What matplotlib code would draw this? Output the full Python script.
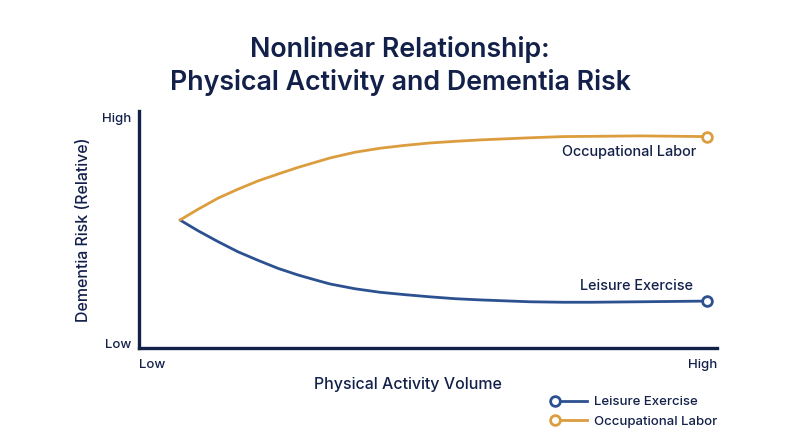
import matplotlib
matplotlib.use("Agg")
import matplotlib.pyplot as plt
from matplotlib.lines import Line2D
from matplotlib.legend_handler import HandlerLine2D

plt.rcParams['font.family'] = ['Inter', 'DejaVu Sans']
plt.rcParams['font.weight'] = 'medium'

# Data (relative scale: activity volume 0-100, risk 0-100)
activity = [0, 3.4, 7.2, 11.0, 14.8, 18.6, 22.4, 26.2, 28.5, 33.2, 38.0, 42.7,
            47.4, 52.2, 56.9, 66.4, 72.7, 77.8, 87.3, 100]
occupational = [54.0, 58.5, 63.2, 67.0, 70.5, 73.4, 76.2, 78.7, 80.2, 82.6, 84.3, 85.5,
                86.5, 87.2, 87.8, 88.7, 89.2, 89.3, 89.5, 89.2]
leisure = [54.0, 49.5, 44.9, 40.6, 37.0, 33.6, 30.8, 28.4, 27.0, 25.0, 23.5, 22.5,
           21.6, 20.8, 20.3, 19.5, 19.3, 19.3, 19.5, 19.8]
series_names = ["Leisure Exercise", "Occupational Labor"]
y_ticklabels = ["Low", "High"]
x_ticklabels = ["Low", "High"]

NAVY = "#13214a"
BLUE = "#2c5190"
ORANGE = "#dc9d3f"


class LeftMarkerHandler(HandlerLine2D):
    def create_artists(self, legend, orig_handle, xdescent, ydescent, width, height,
                       fontsize, trans):
        artists = super().create_artists(legend, orig_handle, xdescent, ydescent,
                                         width, height, fontsize, trans)
        if len(artists) == 1:
            artists[0].set_markevery([0])
        else:
            line, marker = artists[0], artists[1]
            xd = line.get_xdata()
            marker.set_xdata([xd[0]])
        return artists


fig = plt.figure(figsize=(8, 4.47), dpi=100)
ax = fig.add_axes([139/800, 99/447, 578/800, 237/447])

ax.plot(activity, leisure, color=BLUE, lw=2.0, solid_capstyle='round',
        solid_joinstyle='round', zorder=3)
ax.plot(activity, occupational, color=ORANGE, lw=2.0, solid_capstyle='round',
        solid_joinstyle='round', zorder=3)
ax.plot(activity[-1], leisure[-1], 'o', ms=7, mfc='white', mec=BLUE, mew=2, zorder=4)
ax.plot(activity[-1], occupational[-1], 'o', ms=7, mfc='white', mec=ORANGE, mew=2, zorder=4)

ax.set_xlim(-7.78, 101.9)
ax.set_ylim(0, 100)

for s in ['top', 'right']:
    ax.spines[s].set_visible(False)
for s in ['left', 'bottom']:
    ax.spines[s].set_color(NAVY)
    ax.spines[s].set_linewidth(2.4)
ax.set_xticks([])
ax.set_yticks([])

# End labels
ax.text(97.9, occupational[-1] - 6.5, series_names[1], ha='right', va='center',
        fontsize=10.4, color=NAVY)
ax.text(97.4, leisure[-1] + 6.5, series_names[0], ha='right', va='center',
        fontsize=10.4, color=NAVY)

# Axis extreme labels
ax.text(-0.014, 0.966, y_ticklabels[1], transform=ax.transAxes, ha='right', va='center',
        fontsize=9.5, color=NAVY)
ax.text(-0.014, 0.013, y_ticklabels[0], transform=ax.transAxes, ha='right', va='center',
        fontsize=9.5, color=NAVY)
ax.text(0.0, -0.07, x_ticklabels[0], transform=ax.transAxes, ha='left', va='center',
        fontsize=9.5, color=NAVY)
ax.text(1.0, -0.07, x_ticklabels[1], transform=ax.transAxes, ha='right', va='center',
        fontsize=9.5, color=NAVY)

fig.text(408/800, 1 - 384/447, "Physical Activity Volume", ha='center', va='center',
         fontsize=11.5, color=NAVY)
fig.text(83/800, 1 - 230/447, "Dementia Risk (Relative)", ha='center', va='center',
         rotation=90, fontsize=11.5, color=NAVY)

fig.text(0.5, 1 - 66/447, "Nonlinear Relationship:\nPhysical Activity and Dementia Risk",
         ha='center', va='center', fontsize=19.3, fontweight='semibold', color=NAVY,
         linespacing=1.3)

handles = [
    Line2D([], [], color=BLUE, lw=2, marker='o', ms=7, mfc='white', mec=BLUE, mew=2),
    Line2D([], [], color=ORANGE, lw=2, marker='o', ms=7, mfc='white', mec=ORANGE, mew=2),
]
fig.legend(handles, series_names, loc='center left', bbox_to_anchor=(555/800, 1 - 412/447),
           frameon=False, numpoints=1, handlelength=2.4, handletextpad=0.55,
           labelspacing=0.55, fontsize=9.5, labelcolor=NAVY, borderaxespad=0, borderpad=0,
           handler_map={Line2D: LeftMarkerHandler()})

fig.savefig("out.png", dpi=100, facecolor='white')
